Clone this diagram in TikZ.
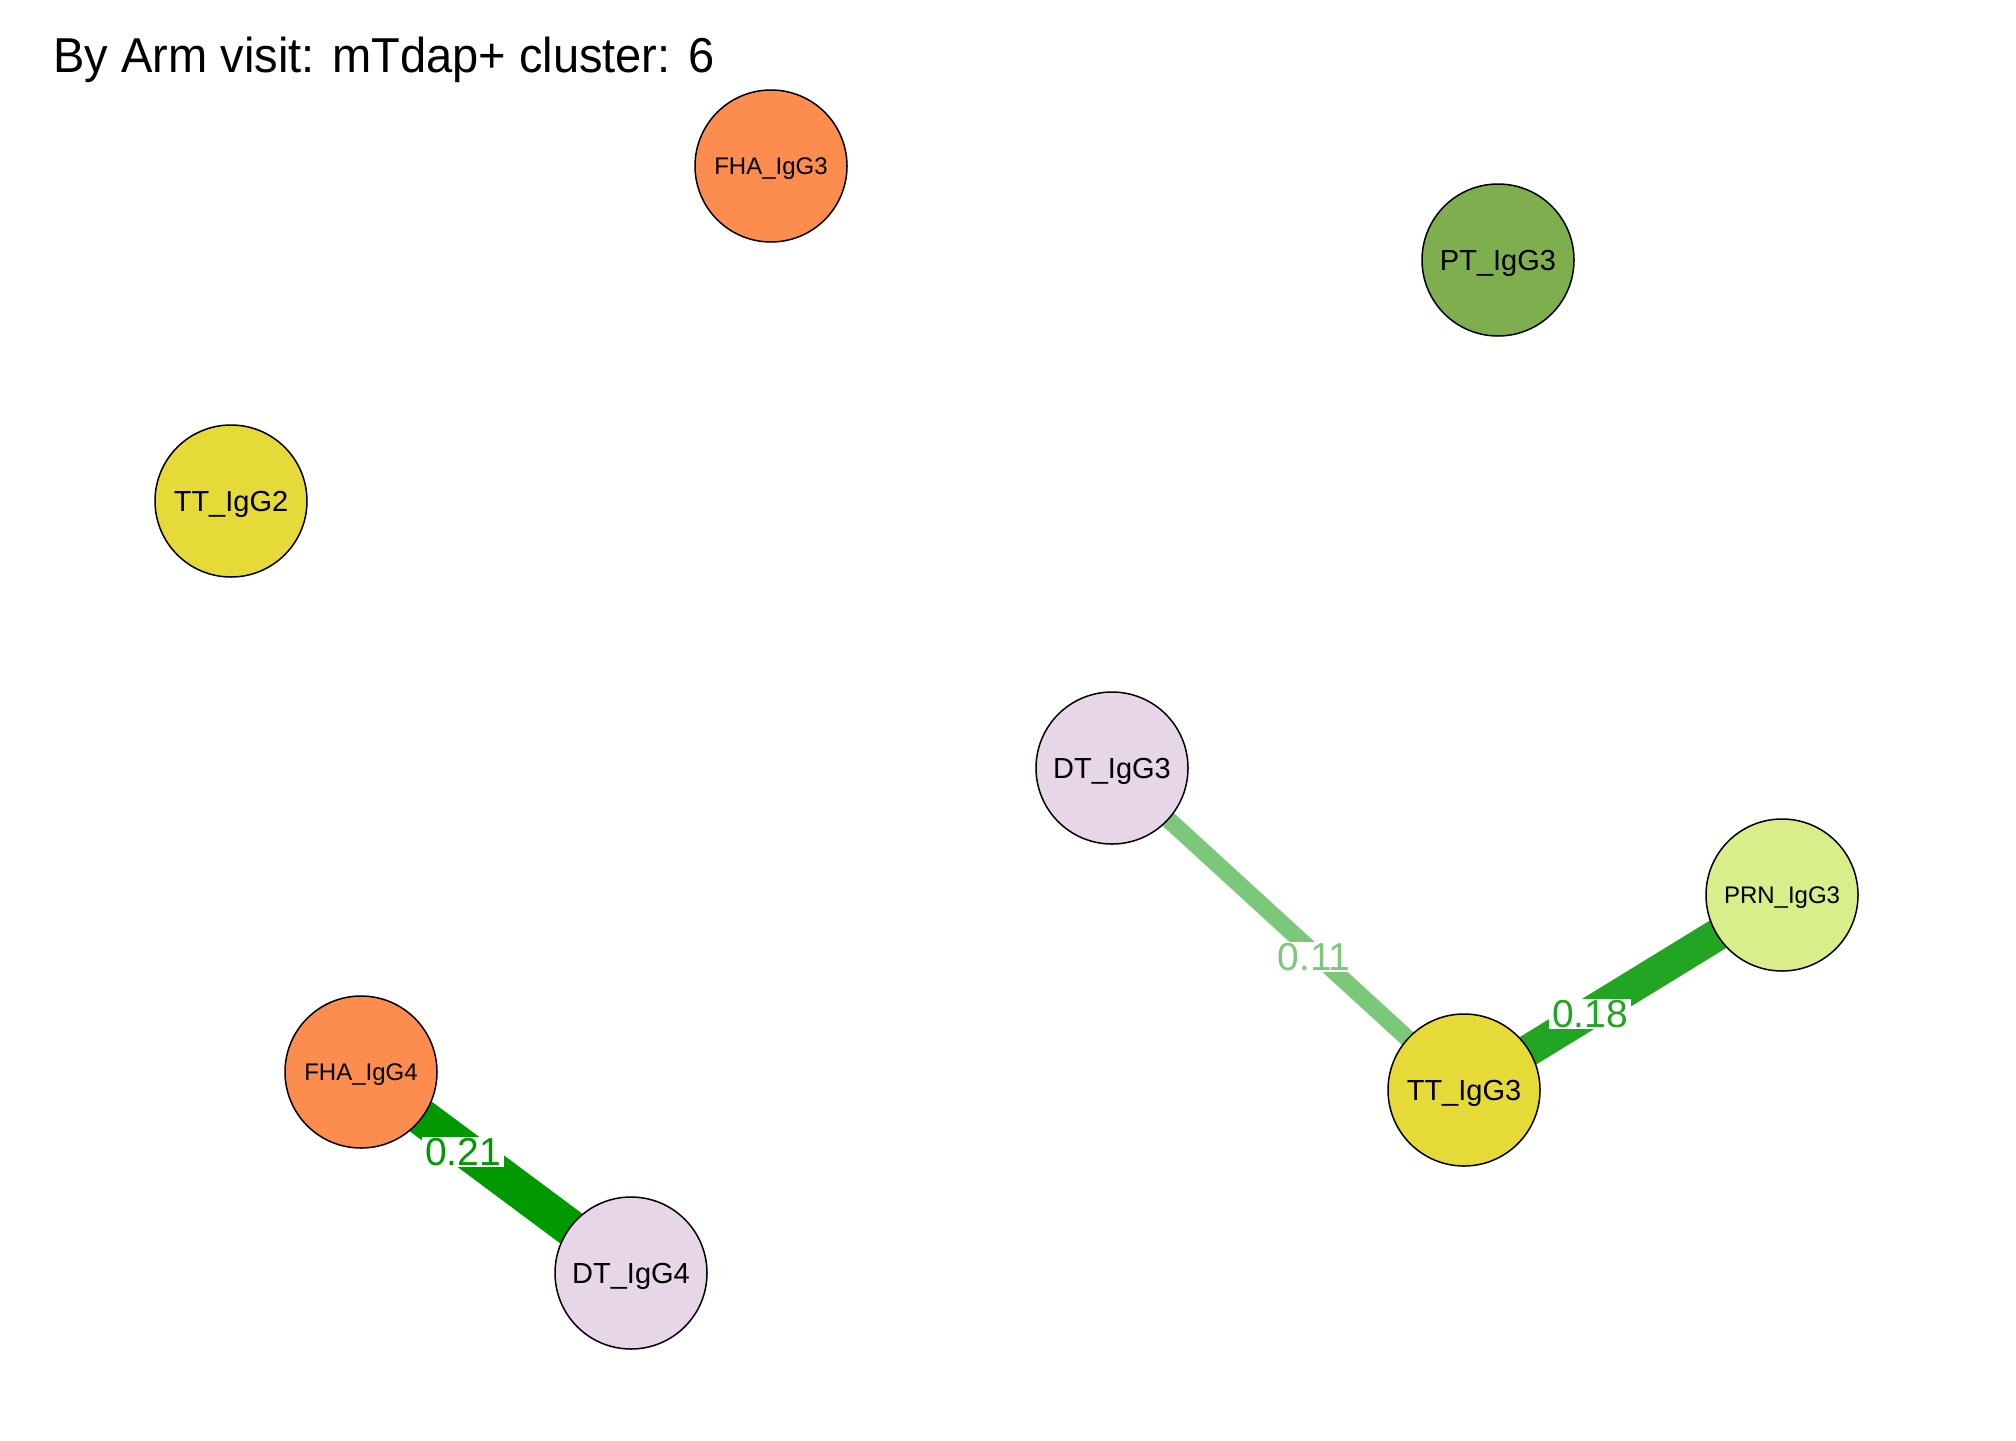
\documentclass[tikz,border=0pt]{standalone}
\usepackage{fontspec}
\setmainfont{Liberation Sans}
\newfontfamily\titlefont[FakeStretch=0.96]{Liberation Sans}
\usetikzlibrary{backgrounds}
\definecolor{fha}{RGB}{252,141,79}
\definecolor{ptc}{RGB}{127,174,78}
\definecolor{ttc}{RGB}{229,218,55}
\definecolor{dtc}{RGB}{230,214,232}
\definecolor{prn}{RGB}{217,237,139}
\definecolor{eA}{RGB}{0,153,0}
\definecolor{eB}{RGB}{34,165,34}
\definecolor{eC}{RGB}{123,200,123}
\tikzset{
  vtx/.style={circle,draw=black,line width=0.75pt,minimum size=76pt,inner sep=0pt,text depth=0pt,font=\fontsize{14.5}{16}\selectfont},
  vsmall/.style={vtx,font=\fontsize{12}{14}\selectfont},
  elabel/.style={fill=white,inner xsep=1.5pt,inner ysep=0.5pt,font=\fontsize{19.5}{21}\selectfont},
}
\begin{document}
\begin{tikzpicture}[x=0.5pt,y=-0.5pt]
\useasboundingbox (0,0) rectangle (2016,1440);
\node[vsmall,fill=fha] (fha3) at (771,166) {FHA\_IgG3};
\node[vtx,fill=ptc] (pt3) at (1498,260) {PT\_IgG3};
\node[vtx,fill=ttc] (tt2) at (231,501) {TT\_IgG2};
\node[vtx,fill=dtc] (dt3) at (1112,768) {DT\_IgG3};
\node[vsmall,fill=prn] (prn3) at (1782,895) {PRN\_IgG3};
\node[vtx,fill=ttc] (tt3) at (1464,1090) {TT\_IgG3};
\node[vsmall,fill=fha] (fha4) at (361,1072) {FHA\_IgG4};
\node[vtx,fill=dtc] (dt4) at (631,1273) {DT\_IgG4};
\begin{scope}[on background layer]
  \fill[white] (0,0) rectangle (2016,1440);
  \draw[eA,line width=18.5pt] (fha4.center) -- (dt4.center);
  \draw[eB,line width=16pt] (tt3.center) -- (prn3.center);
  \draw[eC,line width=8.5pt] (dt3.center) -- (tt3.center);
\end{scope}
\node[elabel,text=eA] (l21) at (463,1152) {0.21};
\node[elabel,text=eB] (l18) at (1590,1014) {0.18};
\node[elabel,text=eC] (l11) at (1314,957) {0.11};
\node[anchor=base west,font=\titlefont\fontsize{24.5}{28}\selectfont,inner sep=0pt] (title) at (53,72) {By Arm visit: mTdap+ cluster: 6};
\end{tikzpicture}
\end{document}
